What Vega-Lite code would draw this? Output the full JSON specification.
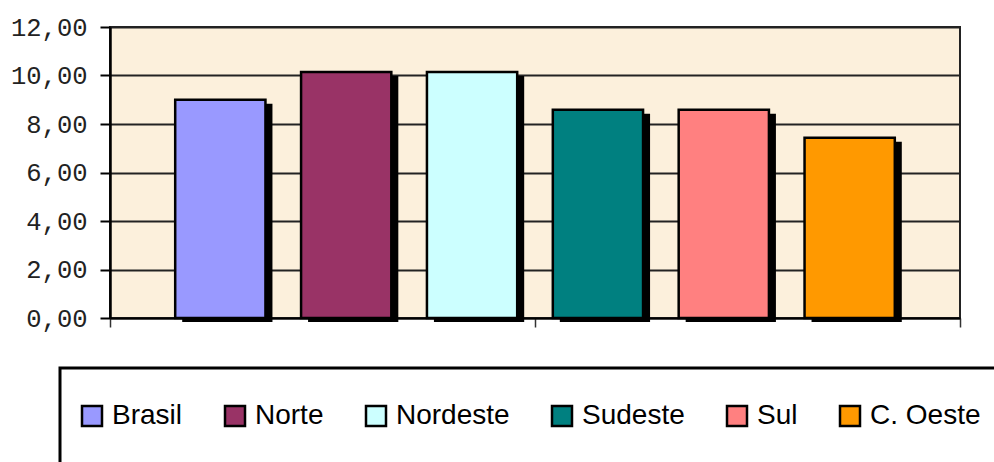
{
  "$schema": "https://vega.github.io/schema/vega-lite/v6.json",
  "width": 850,
  "height": 291,
  "autosize": {"type": "none"},
  "padding": {"left": 110, "top": 27, "right": 34, "bottom": 144},
  "background": "white",
  "config": {
    "view": {"fill": "#FCF0DC", "stroke": "#222222", "strokeWidth": 2},
    "font": "Liberation Sans"
  },
  "datasets": {
    "regioes": [
      {"regiao": "Brasil", "valor": 9.0},
      {"regiao": "Norte", "valor": 10.14},
      {"regiao": "Nordeste", "valor": 10.14},
      {"regiao": "Sudeste", "valor": 8.59},
      {"regiao": "Sul", "valor": 8.59},
      {"regiao": "C. Oeste", "valor": 7.43}
    ]
  },
  "data": {"name": "regioes"},
  "layer": [
    {
      "mark": {"type": "bar", "color": "black", "xOffset": 7, "yOffset": 4, "y2Offset": 2},
      "encoding": {
        "x": {"field": "regiao", "type": "nominal", "sort": null, "scale": {"paddingInner": 0.283, "paddingOuter": 0.518}, "axis": null},
        "y": {
          "field": "valor", "type": "quantitative",
          "scale": {"domain": [0, 12], "nice": false},
          "axis": {
            "values": [0, 2, 4, 6, 8, 10, 12],
            "title": null,
            "grid": true, "gridColor": "#222222", "gridWidth": 2, "gridOpacity": 1,
            "domainColor": "black", "domainWidth": 2.5,
            "tickColor": "black", "tickWidth": 2, "tickSize": 10,
            "labelFont": "Liberation Mono", "labelFontSize": 25.5, "labelColor": "#222222",
            "labelPadding": 13,
            "labelExpr": "replace(format(datum.value, '.2f'), '.', ',')"
          }
        }
      }
    },
    {
      "mark": {"type": "bar", "stroke": "black", "strokeWidth": 2.5, "opacity": 1},
      "encoding": {
        "x": {"field": "regiao", "type": "nominal", "sort": null, "scale": {"paddingInner": 0.283, "paddingOuter": 0.518}, "axis": null},
        "y": {"field": "valor", "type": "quantitative"},
        "color": {
          "field": "regiao", "type": "nominal",
          "scale": {
            "domain": ["Brasil", "Norte", "Nordeste", "Sudeste", "Sul", "C. Oeste"],
            "range": ["#9999FF", "#993366", "#CCFFFF", "#008080", "#FF8080", "#FF9900"]
          },
          "legend": {
            "orient": "none", "legendX": -50, "legendY": 341,
            "direction": "horizontal", "title": null,
            "symbolType": "square", "symbolSize": 400,
            "symbolStrokeColor": "black", "symbolStrokeWidth": 2.5, "symbolOpacity": 1,
            "labelFont": "Liberation Sans", "labelFontSize": 28, "labelColor": "black",
            "labelOffset": 6, "labelLimit": 400,
            "columnPadding": 38, "padding": 18, "clipHeight": 60,
            "fillColor": "white", "strokeColor": "black",
            "encode": {"legend": {"update": {"strokeWidth": {"value": 3}}}}
          }
        }
      }
    },
    {
      "mark": {"type": "point", "opacity": 0},
      "encoding": {
        "x": {
          "datum": 0, "type": "quantitative",
          "scale": {"domain": [0, 2], "nice": false},
          "axis": {
            "values": [0, 1, 2], "labels": false, "title": null, "grid": false,
            "ticks": true, "tickSize": 9, "tickColor": "#333333", "tickWidth": 1.5,
            "domainColor": "black", "domainWidth": 2
          }
        }
      }
    }
  ],
  "resolve": {"scale": {"x": "independent"}}
}
